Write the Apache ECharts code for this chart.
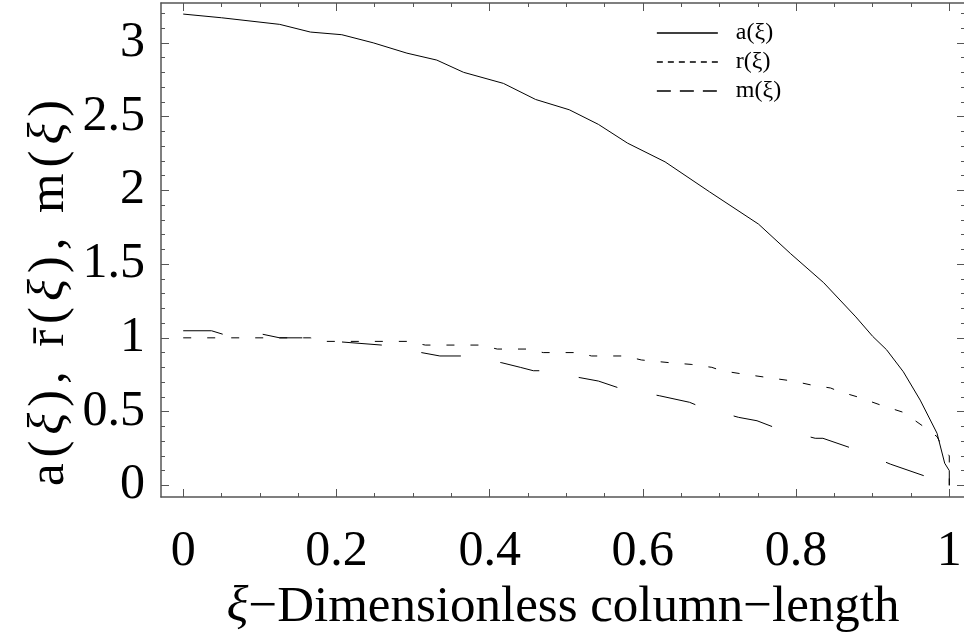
<!DOCTYPE html>
<html>
<head>
<meta charset="utf-8">
<script src="https://cdn.jsdelivr.net/npm/echarts@6/dist/echarts.min.js"></script>
<style>
html,body{margin:0;padding:0;background:#fff;}
#chart{width:964px;height:637px;}
</style>
</head>
<body>
<div id="chart"></div>
<script>
// ---- data ----
const xiA  = [0, 0.05, 0.126, 0.166, 0.207, 0.248, 0.292, 0.331, 0.366, 0.418, 0.46, 0.504, 0.542, 0.58, 0.629, 0.687, 0.751, 0.793, 0.836, 0.878, 0.9, 0.918, 0.94, 0.962, 0.984, 0.994, 1.0, 1.0];
const valA = [3.195, 3.17, 3.125, 3.073, 3.055, 3.0, 2.93, 2.883, 2.80, 2.725, 2.616, 2.546, 2.447, 2.32, 2.193, 1.99, 1.771, 1.57, 1.374, 1.142, 1.01, 0.92, 0.77, 0.578, 0.353, 0.15, 0.10, 0.0];

const xiR  = [0, 0.166, 0.187, 0.293, 0.316, 0.387, 0.41, 0.448, 0.47, 0.515, 0.533, 0.577, 0.598, 0.638, 0.663, 0.69, 0.703, 0.73, 0.764, 0.796, 0.82, 0.845, 0.857, 0.88, 0.91, 0.94, 0.966, 0.984, 0.991, 1.0, 1.0];
const valR = [1.0, 1.0, 0.976, 0.976, 0.951, 0.951, 0.924, 0.924, 0.90, 0.90, 0.877, 0.877, 0.85, 0.83, 0.82, 0.80, 0.777, 0.755, 0.73, 0.707, 0.68, 0.66, 0.635, 0.60, 0.545, 0.495, 0.40, 0.33, 0.26, 0.2, 0.0];

const xiM  = [0, 0.037, 0.052, 0.104, 0.126, 0.166, 0.187, 0.259, 0.311, 0.335, 0.363, 0.416, 0.44, 0.457, 0.468, 0.518, 0.542, 0.57, 0.622, 0.661, 0.675, 0.725, 0.749, 0.775, 0.825, 0.835, 0.877, 0.923, 0.977, 1.0];
const valM = [1.048, 1.048, 1.024, 1.024, 1.0, 1.0, 0.98, 0.951, 0.90, 0.877, 0.877, 0.831, 0.80, 0.777, 0.777, 0.73, 0.707, 0.658, 0.607, 0.563, 0.533, 0.461, 0.438, 0.386, 0.319, 0.319, 0.244, 0.144, 0.047, 0.0];

const seriesNames = ['a(ξ)', 'r(ξ)', 'm(ξ)'];
const xMajorTicks = [0, 0.2, 0.4, 0.6, 0.8, 1];
const xMinorTicks = [0, 0.05, 0.1, 0.15, 0.2, 0.25, 0.3, 0.35, 0.4, 0.45, 0.5, 0.55, 0.6, 0.65, 0.7, 0.75, 0.8, 0.85, 0.9, 0.95, 1];
const yMajorTicks = [0, 0.5, 1, 1.5, 2, 2.5, 3];
const yMinorTicks = [0, 0.1, 0.2, 0.3, 0.4, 0.5, 0.6, 0.7, 0.8, 0.9, 1, 1.1, 1.2, 1.3, 1.4, 1.5, 1.6, 1.7, 1.8, 1.9, 2, 2.1, 2.2, 2.3, 2.4, 2.5, 2.6, 2.7, 2.8, 2.9, 3, 3.1, 3.2];
const xTitleSym = 'ξ';
const xTitleRest = '−Dimensionless column−length';
const yTitleChars = ['a', '(', 'ξ', ')', ',', ' ', 'r̄', '(', 'ξ', ')', ',', ' ', 'm', '(', 'ξ', ')'];

const X_MIN = -0.029, X_MAX = 1.0205;
const Y_MIN = -0.079, Y_MAX = 3.27;

function zip(xs, ys) { return xs.map((x, i) => [x, ys[i]]); }

const FONT = '"Liberation Serif", "DejaVu Serif", serif';
const AX = '#555';

function xAx(pos, ticks, len, showLine, showLabel) {
  return {
    type: 'value', position: pos, min: X_MIN, max: X_MAX,
    axisLine: { show: showLine, onZero: false, lineStyle: { color: AX, width: 1.5 } },
    axisTick: { show: true, inside: true, length: len, customValues: ticks, lineStyle: { color: AX, width: 1 } },
    axisLabel: showLabel ? { show: true, customValues: ticks, margin: 30, color: '#000', fontFamily: FONT, fontSize: 50 } : { show: false },
    splitLine: { show: false }
  };
}
function yAx(pos, ticks, len, showLine, showLabel) {
  return {
    type: 'value', position: pos, min: Y_MIN, max: Y_MAX,
    axisLine: { show: showLine, onZero: false, lineStyle: { color: AX, width: 1.5 } },
    axisTick: { show: true, inside: true, length: len, customValues: ticks, lineStyle: { color: AX, width: 1 } },
    axisLabel: showLabel ? { show: true, customValues: ticks, margin: 16, color: '#000', fontFamily: FONT, fontSize: 50 } : { show: false },
    splitLine: { show: false }
  };
}

const xAxes = [
  xAx('bottom', xMajorTicks, 8, true, true),
  xAx('bottom', xMinorTicks, 4, false, false),
  xAx('top', xMajorTicks, 8, true, false),
  xAx('top', xMinorTicks, 4, false, false)
];
Object.assign(xAxes[0], {
  name: '{i|' + xTitleSym + '}{n|' + xTitleRest + '}',
  nameLocation: 'middle', nameGap: 82,
  nameTextStyle: {
    rich: {
      n: { fontFamily: FONT, fontSize: 51, color: '#000' },
      i: { fontFamily: FONT, fontSize: 51, fontStyle: 'italic', color: '#000' }
    }
  }
});

const yTitleText = yTitleChars.map(c => (c === 'ξ' ? '{i|' : '{n|') + c + '}').join('');

const chart = echarts.init(document.getElementById('chart'), null, { renderer: 'canvas' });
const lineCommon = { type: 'line', symbol: 'none', showSymbol: false, xAxisIndex: 0, yAxisIndex: 0, animation: false, z: 5 };

chart.setOption({
  backgroundColor: '#fff',
  animation: false,
  grid: { left: 161, top: 3, width: 804, height: 494, containLabel: false, outerBoundsMode: 'none' },
  xAxis: xAxes,
  yAxis: [
    yAx('left', yMajorTicks, 8, true, true),
    yAx('left', yMinorTicks, 4, false, false),
    yAx('right', yMajorTicks, 8, false, false),
    yAx('right', yMinorTicks, 4, false, false)
  ],
  legend: {
    orient: 'vertical', left: 656, top: 21, padding: 0,
    itemWidth: 61, itemHeight: 14, itemGap: 5,
    itemStyle: { opacity: 0 },
    formatter: function (name) { return '{s|\u00a0}{t|' + name + '}'; },
    textStyle: {
      fontFamily: FONT, fontSize: 24, color: '#000',
      rich: {
        s: { width: 13, fontFamily: FONT, fontSize: 24 },
        t: { fontFamily: FONT, fontSize: 24, color: '#000' }
      }
    },
    data: [
      { name: seriesNames[0], lineStyle: { type: 'solid', width: 1.3 } },
      { name: seriesNames[1], lineStyle: { type: [6, 5], width: 1.3 } },
      { name: seriesNames[2], lineStyle: { type: [14, 9], width: 1.7 } }
    ]
  },
  graphic: [
    {
      type: 'text', x: 50, y: 293, rotation: Math.PI / 2,
      style: {
        text: yTitleText,
        align: 'center', verticalAlign: 'middle',
        rich: {
          n: { fontFamily: FONT, fontSize: 51, fill: '#000', padding: [0, 2.95] },
          i: { fontFamily: FONT, fontSize: 51, fontStyle: 'italic', fill: '#000', padding: [0, 2.95] }
        }
      }
    }
  ],
  series: [
    Object.assign({}, lineCommon, { name: seriesNames[0], data: zip(xiA, valA), lineStyle: { color: '#000', width: 1, type: 'solid' } }),
    Object.assign({}, lineCommon, { name: seriesNames[1], data: zip(xiR, valR), lineStyle: { color: '#000', width: 1, type: [8, 16] } }),
    Object.assign({}, lineCommon, { name: seriesNames[2], data: zip(xiM, valM), lineStyle: { color: '#000', width: 1, type: [40, 40] } })
  ]
});
</script>
</body>
</html>
